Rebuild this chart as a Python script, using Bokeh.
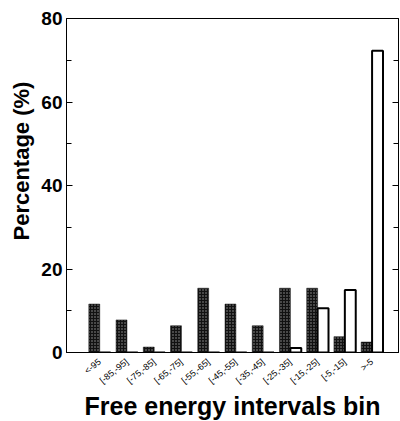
from bokeh.plotting import figure
from bokeh.models import ColumnDataSource, FixedTicker, LinearAxis, Range1d
from bokeh.transform import dodge
from bokeh.embed import file_html
from bokeh.resources import INLINE

categories = ["<-95", "[-85,-95]", "[-75,-85]", "[-65,-75]", "[-55,-65]", "[-45,-55]",
              "[-35,-45]", "[-25,-35]", "[-15,-25]", "[-5,-15]", ">-5"]
series_dark = [11.6, 7.8, 1.3, 6.4, 15.4, 11.6, 6.4, 15.4, 15.4, 3.8, 2.5]
series_white = [0, 0, 0, 0, 0, 0, 0, 1.1, 10.6, 15.0, 72.3]
y_ticks = [0, 20, 40, 60, 80]

pos = list(range(1, len(categories) + 1))
src = ColumnDataSource(dict(x=pos, dark=series_dark, white=series_white))

p = figure(frame_width=332, frame_height=334, output_backend="svg", toolbar_location=None,
           x_range=Range1d(-0.22, 11.97), y_range=Range1d(0, 80),
           min_border_left=66, min_border_right=2, min_border_top=18, min_border_bottom=0)
p.background_fill_color = "white"
p.border_fill_color = "white"
p.outline_line_color = "black"
p.outline_line_width = 1
p.grid.visible = False

p.vbar(x=dodge("x", -0.2), top="dark", width=0.4, source=src,
       fill_color="#111111", line_color="#111111", line_width=0.5,
       hatch_pattern="dot", hatch_color="#9a9a9a", hatch_scale=3, hatch_weight=1)
p.vbar(x=dodge("x", 0.2), top="white", width=0.4, source=src,
       fill_color="white", line_color="black", line_width=2)

xa = p.xaxis[0]
xa.ticker = FixedTicker(ticks=pos)
xa.major_label_overrides = {i: c for i, c in zip(pos, categories)}
xa.major_label_orientation = 0.68
xa.major_label_text_font = "Liberation Sans"
xa.major_label_text_font_size = "9px"
xa.major_label_text_color = "black"
xa.major_tick_line_color = None
xa.minor_tick_line_color = None
xa.axis_line_color = "black"
xa.major_label_standoff = 2
xa.axis_label = "Free energy intervals bin"
xa.axis_label_text_font = "Liberation Sans"
xa.axis_label_text_font_style = "bold"
xa.axis_label_text_font_size = "25px"
xa.axis_label_standoff = 0
xa.axis_label_text_color = "black"

ya = p.yaxis[0]
ya.ticker = FixedTicker(ticks=y_ticks, minor_ticks=[10, 30, 50, 70])
ya.major_label_text_font = "Liberation Sans"
ya.major_label_text_font_style = "bold"
ya.major_label_text_font_size = "19px"
ya.major_label_text_color = "black"
ya.major_tick_in = 6
ya.major_tick_out = 0
ya.minor_tick_in = 5
ya.minor_tick_out = 0
ya.major_label_standoff = 4
ya.axis_line_color = "black"
ya.axis_label = "\u00a0" * 8 + "Percentage (%)"
ya.axis_label_text_font = "Liberation Sans"
ya.axis_label_text_font_style = "bold"
ya.axis_label_text_font_size = "22px"
ya.axis_label_standoff = 4
ya.axis_label_text_color = "black"

ra = LinearAxis(ticker=FixedTicker(ticks=y_ticks, minor_ticks=[10, 30, 50, 70]))
ra.major_label_overrides = {t: "" for t in y_ticks}
ra.major_label_text_font_size = "1px"
ra.major_label_standoff = 0
ra.major_tick_in = 6
ra.major_tick_out = 0
ra.minor_tick_in = 5
ra.minor_tick_out = 0
ra.axis_line_color = "black"
p.add_layout(ra, "right")

open("out.html", "w").write(file_html(p, INLINE))
